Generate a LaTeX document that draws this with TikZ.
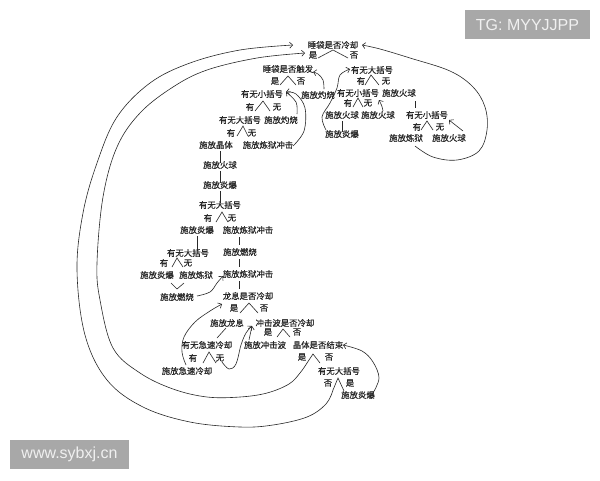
\documentclass[tikz,border=0pt]{standalone}
\usepackage{fontspec}
\setmainfont{Liberation Sans}
\newfontfamily\cjk{Noto Sans CJK SC}[FakeBold=0.6]
\usetikzlibrary{arrows.meta}
\definecolor{wmgray}{RGB}{168,168,168}
\definecolor{ink}{RGB}{40,40,40}
\newcommand\fk[7]{\draw[ln] ([shift={(#2,#3)}]#1.center) -- ([shift={(#4,#5)}]#1.center) -- ([shift={(#6,#7)}]#1.center);}
\begin{document}
\begin{tikzpicture}[x=1pt,y=-1pt,
  lbl/.style={font=\cjk\fontsize{8.4}{9}\selectfont, inner sep=0pt, text=ink},
  ln/.style={draw=ink, line width=0.6pt},
  arr/.style={ln, -{Straight Barb[length=3pt,width=6pt]}},
  wm/.style={fill=wmgray, text=white!94!black, font=\fontsize{16}{18}\selectfont, inner sep=0pt}]
\useasboundingbox (0,0) rectangle (600,480);
\fill[white] (0,0) rectangle (600,480);
% watermarks
\node[wm, minimum width=125pt, minimum height=29pt] (tg) at (527.5,24.5) {TG: MYYJJPP};
\node[wm, minimum width=119pt, minimum height=29pt] (www) at (69.5,454.5) {www.sybxj.cn};
% top
\node[lbl] (t1) at (333,45) {睡袋是否冷却};
\node[lbl] (t1y) at (313,55) {是};
\node[lbl] (t1n) at (354,55) {否};
\fk{t1}{-15}{13}{0}{5}{15}{13}
% left subtree top
\node[lbl] (a1) at (288,69) {睡袋是否触发};
\node[lbl] (a1y) at (275,81) {是};
\node[lbl] (a1n) at (301,81) {否};
\fk{a1}{-8}{16}{0}{7}{8}{16}
\node[lbl] (a2) at (318,95) {施放灼烧};
% right subtree
\node[lbl] (b1) at (372,70) {有无大括号};
\node[lbl] (b1y) at (361,81) {有};
\node[lbl] (b1n) at (386,81) {无};
\fk{b1}{-7}{15}{-1}{5}{7}{15}
\node[lbl] (b2) at (358,93) {有无小括号};
\node[lbl] (b2y) at (348,103) {有};
\node[lbl] (b2n) at (368,103) {无};
\fk{b2}{-5}{14}{0}{5}{5}{14}
\node[lbl] (b3) at (399,93) {施放火球};
\node[lbl] (b4) at (342,115) {施放火球};
\node[lbl] (b5) at (378,115) {施放火球};
\node[lbl] (b6) at (342,134) {施放炎爆};
\draw[ln] (b4.south) ++(0,2) -- ([yshift=-2pt]b6.north);
\node[lbl] (b7) at (427,115) {有无小括号};
\node[lbl] (b7y) at (417,127) {有};
\node[lbl] (b7n) at (440,127) {无};
\fk{b7}{-6}{15}{0}{6}{6}{15}
\coordinate (b3b) at (415,101);
\coordinate (b7t) at (415,108);
\draw[ln] (b3b) -- (b7t);
\node[lbl] (b8) at (406,138) {施放炼狱};
\node[lbl] (b9) at (449,138) {施放火球};
% left chain
\node[lbl] (c1) at (262,94) {有无小括号};
\node[lbl] (c1y) at (250,107) {有};
\node[lbl] (c1n) at (277,107) {无};
\fk{c1}{-7}{17}{1}{7}{8}{17}
\node[lbl] (c2) at (240,120) {有无大括号};
\node[lbl] (c3) at (281,120) {施放灼烧};
\node[lbl] (c2y) at (231,133) {有};
\node[lbl] (c2n) at (252,133) {无};
\fk{c2}{-3}{16}{3}{6}{8}{16}
\node[lbl] (c4) at (216,145) {施放晶体};
\node[lbl] (c5) at (268,145) {施放炼狱冲击};
\node[lbl] (c6) at (220,165) {施放火球};
\node[lbl] (c7) at (220,185) {施放炎爆};
\node[lbl] (c8) at (220,205) {有无大括号};
\draw[ln] ([xshift=4pt,yshift=-2pt]c4.south) -- ([yshift=-2pt]c6.north);
\draw[ln] ([yshift=-2pt]c6.south) -- ([yshift=-2pt]c7.north);
\draw[ln] ([yshift=-2pt]c7.south) -- ([yshift=-2pt]c8.north);
\node[lbl] (c8y) at (208,218) {有};
\node[lbl] (c8n) at (232,218) {无};
\fk{c8}{-4}{17}{2}{7}{8}{17}
\node[lbl] (c9) at (197,230) {施放炎爆};
\node[lbl] (c10) at (248,230) {施放炼狱冲击};
\node[lbl] (c11) at (188,253) {有无大括号};
\draw[ln] ([yshift=-2pt]c9.south) -- ([yshift=-2pt]c9.south |- c11.north);
\node[lbl] (c11y) at (164,263) {有};
\node[lbl] (c11n) at (188,263) {无};
\fk{c11}{-16}{14}{-11}{5}{-5}{14}
\node[lbl] (c12) at (157,275) {施放炎爆};
\node[lbl] (c13) at (196,275) {施放炼狱};
\node[lbl] (c14) at (177,297) {施放燃烧};
\fk{c14}{-6}{-14}{0}{-8}{7}{-14}
% middle column
\node[lbl] (d1) at (240,252) {施放燃烧};
\node[lbl] (d2) at (248,274) {施放炼狱冲击};
\node[lbl] (d3) at (248,296) {龙息是否冷却};
\coordinate (v1a) at (239,237); \coordinate (v1b) at (239,245);
\coordinate (v2a) at (239,259); \coordinate (v2b) at (239,267);
\coordinate (v3a) at (239,281); \coordinate (v3b) at (239,289);
\draw[ln] (v1a) -- (v1b);
\draw[ln] (v2a) -- (v2b);
\draw[ln] (v3a) -- (v3b);
\node[lbl] (d3y) at (234,308) {是};
\node[lbl] (d3n) at (264,308) {否};
\fk{d3}{-8}{17}{1}{7}{10}{17}
\node[lbl] (d4) at (227,323) {施放龙息};
\node[lbl] (d5) at (285,323) {冲击波是否冷却};
\node[lbl] (d5y) at (268,332) {是};
\node[lbl] (d5n) at (297,332) {否};
\fk{d5}{-8}{14}{-2}{6}{5}{14}
\node[lbl] (d6) at (207,345) {有无急速冷却};
\draw[ln] ([shift={(-1,5)}]d4.center) -- ([shift={(10,-7)}]d6.center);
\node[lbl] (d6y) at (193,358) {有};
\node[lbl] (d6n) at (220,358) {无};
\fk{d6}{-4}{18}{2}{7}{9}{18}
\node[lbl] (d7) at (187,371) {施放急速冷却};
\node[lbl] (d8) at (265,345) {施放冲击波};
\node[lbl] (d9) at (318,345) {晶体是否结束};
\node[lbl] (d9y) at (302,357) {是};
\node[lbl] (d9n) at (329,357) {否};
\fk{d9}{-11}{18}{-5}{9}{2}{18}
\node[lbl] (d10) at (339,371) {有无大括号};
\node[lbl] (d10y) at (328,383) {否};
\node[lbl] (d10n) at (350,383) {是};
\fk{d10}{-6}{19}{-1}{7}{5}{20}
\node[lbl] (d11) at (358,395) {施放炎爆};
% curved arrows
\coordinate (o1) at (333,390);
\coordinate (o2) at (293,45);
\draw[arr] plot[smooth,tension=0.6] coordinates {(o1) (326,404) (307,417) (273,425) (240,427) (190,422) (143,407) (107,380) (85,335) (77,270) (83,213) (97,163) (117,117) (150,83) (190,63) (240,50) (o2)};
\coordinate (i1) at (307,363);
\coordinate (i2) at (305,53);
\draw[arr] plot[smooth,tension=0.6] coordinates {(i1) (300,373) (289,384) (267,393) (240,397) (207,397) (173,389) (140,373) (113,348) (100,300) (97,263) (103,197) (117,147) (140,113) (173,87) (207,70) (257,58) (i2)};
\coordinate (r1) at (415,146);
\coordinate (r2) at (362,45);
\draw[arr] plot[smooth,tension=0.6] coordinates {(r1) (433,157) (457,160) (479,151) (487,130) (485,107) (473,87) (450,71) (410,58) (380,49) (r2)};
\coordinate (s1) at (373,393);
\coordinate (s2) at (343,345);
\draw[arr] plot[smooth,tension=0.6] coordinates {(s1) (379,378) (373,362) (362,351) (s2)};
\coordinate (e1) at (186,365);
\coordinate (e2) at (222,304);
\draw[arr] plot[smooth,tension=0.6] coordinates {(e1) (182,352) (184,337) (195,322) (210,311) (e2)};
\coordinate (f1) at (222,362);
\coordinate (f2) at (252,326);
\draw[arr] plot[smooth,tension=0.6] coordinates {(f1) (229,369) (236,364) (241,345) (246,333) (f2)};
\coordinate (g1) at (249,340);
\draw[arr] (g1) -- (f2);
\coordinate (h1) at (197,296);
\coordinate (h2) at (223,276);
\draw[arr] plot[smooth,tension=0.6] coordinates {(h1) (210,292) (217,283) (h2)};
\coordinate (k1) at (324,89);
\coordinate (k2) at (313,72);
\draw[arr] plot[smooth,tension=0.6] coordinates {(k1) (323,80) (318,74) (k2)};
\coordinate (m1) at (326,130);
\coordinate (m2) at (350,69);
\draw[arr] plot[smooth,tension=0.6] coordinates {(m1) (322,117) (330,103) (337,88) (340,75) (m2)};
\coordinate (n1) at (383,111);
\coordinate (n2) at (379,100);
\draw[arr] (n1) to[bend right=10] (n2);
\coordinate (p1) at (463,131);
\coordinate (p2) at (449,120);
\draw[arr] (p1) -- (p2);
\coordinate (q1) at (297,114);
\coordinate (q2) at (286,92);
\draw[arr] plot[smooth,tension=0.6] coordinates {(q1) (296,102) (q2)};
\coordinate (u1) at (293,146);
\draw[arr] plot[smooth,tension=0.6] coordinates {(u1) (304,131) (305,108) (296,94) (q2)};
\end{tikzpicture}
\end{document}
